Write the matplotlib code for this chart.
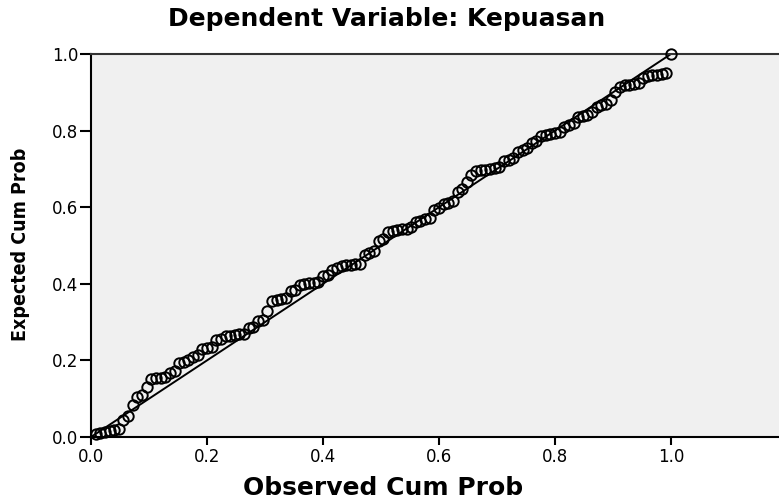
import matplotlib
matplotlib.use("Agg")
import matplotlib.pyplot as plt
from matplotlib import font_manager

# P-P plot of regression standardized residual
# observed cumulative probability (x) and expected cumulative probability (y)
observed = [
    0.008, 0.016, 0.024, 0.032, 0.040, 0.048, 0.056, 0.064, 0.072, 0.080,
    0.088, 0.096, 0.104, 0.112, 0.120, 0.128, 0.136, 0.144, 0.152, 0.160,
    0.168, 0.176, 0.184, 0.192, 0.200, 0.208, 0.216, 0.224, 0.232, 0.240,
    0.248, 0.256, 0.264, 0.272, 0.280, 0.288, 0.296, 0.304, 0.312, 0.320,
    0.328, 0.336, 0.344, 0.352, 0.360, 0.368, 0.376, 0.384, 0.392, 0.400,
    0.408, 0.416, 0.424, 0.432, 0.440, 0.448, 0.456, 0.464, 0.472, 0.480,
    0.488, 0.496, 0.504, 0.512, 0.520, 0.528, 0.536, 0.544, 0.552, 0.560,
    0.568, 0.576, 0.584, 0.592, 0.600, 0.608, 0.616, 0.624, 0.632, 0.640,
    0.648, 0.656, 0.664, 0.672, 0.680, 0.688, 0.696, 0.704, 0.712, 0.720,
    0.728, 0.736, 0.744, 0.752, 0.760, 0.768, 0.776, 0.784, 0.792, 0.800,
    0.808, 0.816, 0.824, 0.832, 0.840, 0.848, 0.856, 0.864, 0.872, 0.880,
    0.888, 0.896, 0.904, 0.912, 0.920, 0.928, 0.936, 0.944, 0.952, 0.960,
    0.968, 0.976, 0.984, 0.992, 1.000,
]
expected = [
    0.008, 0.010, 0.012, 0.015, 0.018, 0.022, 0.045, 0.055, 0.083, 0.105,
    0.110, 0.130, 0.152, 0.153, 0.154, 0.156, 0.168, 0.172, 0.194, 0.196,
    0.200, 0.210, 0.214, 0.230, 0.232, 0.235, 0.253, 0.256, 0.263, 0.265,
    0.266, 0.268, 0.270, 0.285, 0.288, 0.303, 0.306, 0.330, 0.355, 0.358,
    0.361, 0.364, 0.380, 0.384, 0.396, 0.399, 0.401, 0.403, 0.405, 0.420,
    0.424, 0.435, 0.440, 0.446, 0.448, 0.450, 0.451, 0.453, 0.475, 0.480,
    0.486, 0.512, 0.516, 0.535, 0.538, 0.540, 0.542, 0.544, 0.548, 0.562,
    0.565, 0.568, 0.571, 0.592, 0.598, 0.608, 0.612, 0.615, 0.640, 0.647,
    0.666, 0.685, 0.694, 0.697, 0.698, 0.700, 0.702, 0.705, 0.720, 0.724,
    0.728, 0.745, 0.750, 0.754, 0.768, 0.773, 0.785, 0.788, 0.790, 0.793,
    0.797, 0.810, 0.815, 0.820, 0.835, 0.838, 0.842, 0.848, 0.862, 0.866,
    0.870, 0.880, 0.900, 0.915, 0.918, 0.920, 0.922, 0.925, 0.938, 0.942,
    0.944, 0.946, 0.948, 0.950, 1.000,
]
ticks = [0.0, 0.2, 0.4, 0.6, 0.8, 1.0]

plt.rcParams['font.family'] = ['DejaVu Sans']

# narrow bold face for the vertical label if one is installed
fonts = font_manager.fontManager.ttflist
names = {f.name for f in fonts}
ylab_kw = dict(family='Liberation Sans', fontsize=14)
if 'Liberation Sans Narrow' in names:
    ylab_kw = dict(family='Liberation Sans Narrow', fontsize=16)
elif any(f.name == 'DejaVu Sans' and f.stretch == 'condensed' for f in fonts):
    ylab_kw = dict(family='DejaVu Sans', fontstretch='condensed', fontsize=14)

fig = plt.figure(figsize=(7.79, 5.04), dpi=100)
ax = fig.add_axes([91 / 779, 67 / 504, 696 / 779, 383 / 504])
ax.set_facecolor('#f0f0f0')

# diagonal reference line
ax.plot([0, 1], [0, 1], color='black', lw=1.4, zorder=2)
ax.plot(observed, expected, linestyle='none', marker='o', markersize=7.5,
        markerfacecolor='none', markeredgecolor='black', markeredgewidth=1.4,
        zorder=3, clip_on=False)

ax.set_xlim(0, 1.2)
ax.set_ylim(0, 1.0)
ax.set_xticks(ticks)
ax.set_yticks(ticks)
ax.set_xticklabels([f"{t:.1f}" for t in ticks])
ax.set_yticklabels([f"{t:.1f}" for t in ticks])
ax.tick_params(axis='x', direction='out', length=6, width=1.5, pad=2, labelsize=12)
ax.tick_params(axis='y', direction='out', length=8, width=1.5, pad=1, labelsize=12)
for side in ['left', 'bottom', 'top']:
    ax.spines[side].set_linewidth(1.5)
ax.spines['top'].set_color('#333333')
ax.spines['right'].set_visible(False)

fig.text(387 / 779, 1 - 19 / 504, "Dependent Variable: Kepuasan",
         ha='center', va='center', fontsize=18, fontweight='bold')
fig.text(383 / 779, 1 - 488 / 504, "Observed Cum Prob",
         ha='center', va='center', fontsize=18, fontweight='bold')
fig.text(21 / 779, 1 - 244 / 504, "Expected Cum Prob", rotation=90,
         ha='center', va='center', fontweight='bold', **ylab_kw)

fig.savefig("out.png", dpi=100)
